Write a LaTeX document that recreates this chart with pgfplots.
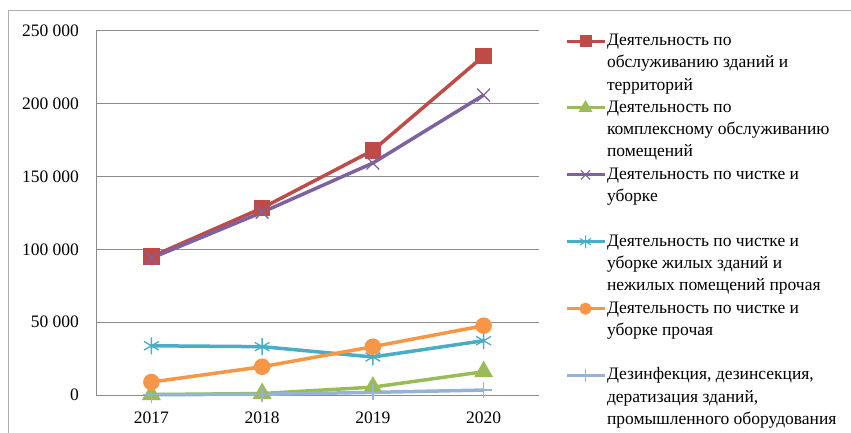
\documentclass[border=0pt]{standalone}
\usepackage{pgfplots}
\pgfplotsset{compat=1.18}
\usepackage{fontspec}
\setmainfont{Liberation Serif}
\definecolor{cred}{HTML}{BE4B48}
\definecolor{cgreen}{HTML}{9BBB59}
\definecolor{cpurple}{HTML}{7E62A0}
\definecolor{cteal}{HTML}{4BACC6}
\definecolor{corange}{HTML}{F79646}
\definecolor{clblue}{HTML}{95B3D7}
\definecolor{cgrid}{HTML}{8C8C8C}
\newcommand{\cf}{\fontsize{17.5bp}{21bp}\selectfont}
\begin{document}
\cf
\begin{tikzpicture}
\useasboundingbox (0,0) rectangle (851bp,433bp);
\draw[color=cgrid!70, line width=1bp] (8.5bp,-10bp) -- (8.5bp,422.5bp) -- (870bp,422.5bp);
\begin{axis}[
  at={(96bp,38bp)}, anchor=south west,
  scale only axis, width=443bp, height=364bp,
  xmin=-0.5, xmax=3.5, ymin=0, ymax=250000,
  scaled y ticks=false,
  xtick={0,1,2,3}, xticklabels={2017,2018,2019,2020},
  ytick={0,50000,100000,150000,200000,250000},
  yticklabels={0,50 000,100 000,150 000,200 000,250 000},
  ymajorgrids, grid style={color=cgrid, line width=1bp},
  axis x line*=bottom, axis y line*=left,
  axis line style={color=cgrid, line width=1bp, -},
  major tick length=0pt, tick style={draw=none},
  tick label style={font=\cf},
  yticklabel style={xshift=-11bp},
  xticklabel style={yshift=-11bp},
  /pgf/number format/assume math mode=true,
  clip=false,
  legend image code/.code={\draw[mark repeat=2,mark phase=2,#1] plot coordinates {(0bp,0bp) (19bp,0bp) (38bp,0bp)};},
  legend style={at={(1.0587,1.003)}, anchor=north west, draw=none, fill=none,
    inner sep=0pt, outer sep=0pt, row sep=0pt, column sep=0pt, font=\cf,
    nodes={text height=13bp, text depth=4.3bp, inner ysep=2.5bp, inner xsep=1bp},
    cells={anchor=west}},
]
\addplot[forget plot, color=cred, line width=3.5bp, mark=square*, mark size=6.5bp, mark options={solid}] coordinates {(0,95000) (1,128400) (2,168000) (3,232800)};
\addplot[forget plot, color=cgreen, line width=3.5bp, mark=triangle*, mark size=7.5bp, mark options={solid}] coordinates {(0,300) (1,1000) (2,5400) (3,16000)};
\addplot[forget plot, color=cpurple, line width=3.5bp, mark=x, mark size=9bp, mark options={solid, line width=1.3bp}] coordinates {(0,94000) (1,125500) (2,159300) (3,206000)};
\addplot[forget plot, color=cteal, line width=3.5bp, mark=asterisk, mark size=8.5bp, mark options={solid, line width=1.3bp}] coordinates {(0,33800) (1,33200) (2,26100) (3,37300)};
\addplot[forget plot, color=corange, line width=3.5bp, mark=*, mark size=6.5bp, mark options={solid}] coordinates {(0,8900) (1,19400) (2,33200) (3,47600)};
\addplot[forget plot, color=clblue, line width=3.5bp, mark=+, mark size=8bp, mark options={solid, line width=1.3bp}] coordinates {(0,200) (1,500) (2,1800) (3,3400)};

\addlegendimage{color=cred, line width=3bp, mark=square*, mark size=4.5bp}
\addlegendentry{Деятельность по}
\addlegendimage{empty legend}\addlegendentry{обслуживанию зданий и}
\addlegendimage{empty legend}\addlegendentry{территорий}
\addlegendimage{color=cgreen, line width=3bp, mark=triangle*, mark size=5bp}
\addlegendentry{Деятельность по}
\addlegendimage{empty legend}\addlegendentry{комплексному обслуживанию}
\addlegendimage{empty legend}\addlegendentry{помещений}
\addlegendimage{color=cpurple, line width=3bp, mark=x, mark size=6.5bp, mark options={line width=1bp}}
\addlegendentry{Деятельность по чистке и}
\addlegendimage{empty legend}\addlegendentry{уборке}
\addlegendimage{empty legend}\addlegendentry{}
\addlegendimage{color=cteal, line width=3bp, mark=asterisk, mark size=6.5bp, mark options={line width=1bp}}
\addlegendentry{Деятельность по чистке и}
\addlegendimage{empty legend}\addlegendentry{уборке жилых зданий и}
\addlegendimage{empty legend}\addlegendentry{нежилых помещений прочая}
\addlegendimage{color=corange, line width=3bp, mark=*, mark size=4.5bp}
\addlegendentry{Деятельность по чистке и}
\addlegendimage{empty legend}\addlegendentry{уборке прочая}
\addlegendimage{empty legend}\addlegendentry{}
\addlegendimage{color=clblue, line width=3bp, mark=+, mark size=6.5bp, mark options={line width=1bp}}
\addlegendentry{Дезинфекция, дезинсекция,}
\addlegendimage{empty legend}\addlegendentry{дератизация зданий,}
\addlegendimage{empty legend}\addlegendentry{промышленного оборудования}
\end{axis}
\end{tikzpicture}
\end{document}
